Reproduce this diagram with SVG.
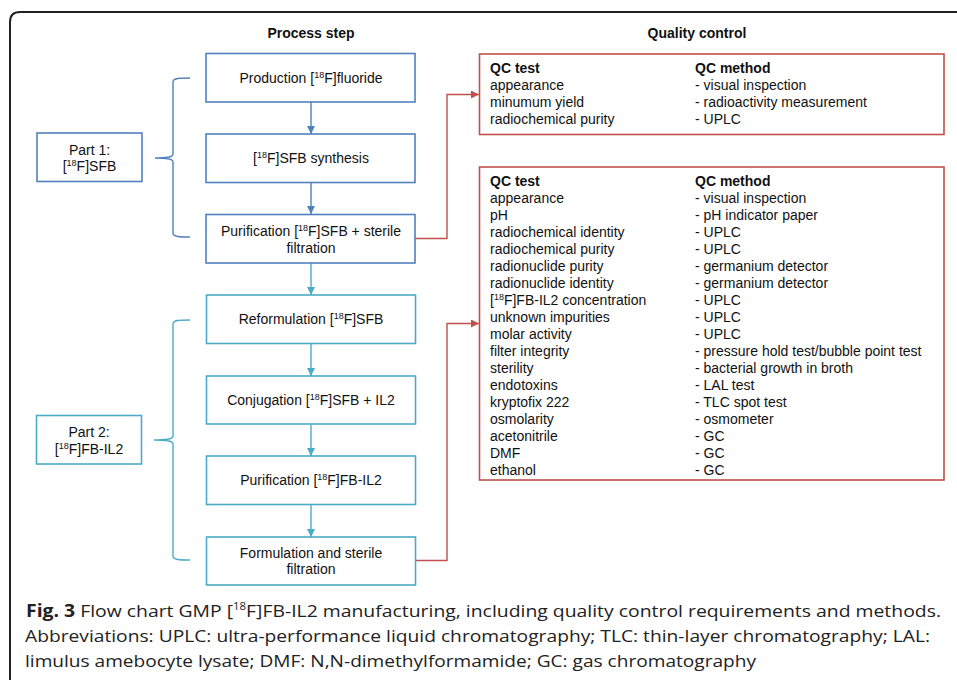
<svg xmlns="http://www.w3.org/2000/svg" width="957" height="680" viewBox="0 0 957 680">
<style>
  text { font-family: "Liberation Sans", Arial, sans-serif; font-size: 14px; fill: #111; }
  .c { text-anchor: middle; }
  .b { font-weight: bold; }
  .p1 { fill: #fff; stroke: #4F81BD; stroke-width: 1.6; }
  .p2 { fill: #fff; stroke: #4BACC6; stroke-width: 1.6; }
  .qc { fill: #fff; stroke: #C0504D; stroke-width: 1.6; }
  .l1 { fill: none; stroke: #4F81BD; stroke-width: 1.4; }
  .l2 { fill: none; stroke: #4BACC6; stroke-width: 1.4; }
  .lr { fill: none; stroke: #C0504D; stroke-width: 1.4; }
  .cap { font-family: "Open Sans", "Noto Sans", sans-serif; font-size: 17px; fill: #222; }
</style>
<defs>
  <marker id="ab" markerUnits="userSpaceOnUse" markerWidth="10" markerHeight="10" refX="8" refY="4" orient="auto">
    <path d="M0,0 L8,4 L0,8 Z" fill="#4F81BD"/>
  </marker>
  <marker id="al" markerUnits="userSpaceOnUse" markerWidth="10" markerHeight="10" refX="8" refY="4" orient="auto">
    <path d="M0,0 L8,4 L0,8 Z" fill="#4BACC6"/>
  </marker>
  <marker id="ar" markerUnits="userSpaceOnUse" markerWidth="10" markerHeight="10" refX="8" refY="4" orient="auto">
    <path d="M0,0 L8,4 L0,8 Z" fill="#C0504D"/>
  </marker>
</defs>
<rect width="957" height="680" fill="#fff"/>
<path d="M10,682 L10,22 Q10,12 20,12 L959,12" fill="none" stroke="#222" stroke-width="2"/>

<text class="c b" x="311" y="38">Process step</text>
<text class="c b" x="697" y="38">Quality control</text>

<g id="connectors">
  <path class="l1" d="M311,102 V134" marker-end="url(#ab)"/>
  <path class="l1" d="M311,182.5 V214" marker-end="url(#ab)"/>
  <path class="l2" d="M311,263 V295" marker-end="url(#al)"/>
  <path class="l2" d="M311,343.5 V376" marker-end="url(#al)"/>
  <path class="l2" d="M311,424 V456" marker-end="url(#al)"/>
  <path class="l2" d="M311,504.5 V537" marker-end="url(#al)"/>
  <path class="lr" d="M415,238.5 H447 V94.5 H479" marker-end="url(#ar)"/>
  <path class="lr" d="M415,560.5 H447 V323.5 H479" marker-end="url(#ar)"/>
  <path class="l1" d="M190,78 C180,78 173,78 173,82 L173,154 C173,157 168,158 155,158 C168,158 173,159 173,162 L173,233 C173,237 180,237 190,237"/>
  <path class="l2" d="M190,320 C180,320 173,320 173,324 L173,436 C173,439 168,440 154,440 C168,440 173,441 173,444 L173,556 C173,560 180,560 190,560"/>
</g>

<g id="part1">
  <rect class="p1" x="37" y="133" width="105" height="48.5"/>
  <text class="c" x="89.5" y="154.5">Part 1:</text>
  <text class="c" x="89.5" y="171">[<tspan font-size="9" dy="-5">18</tspan><tspan dy="5">F]SFB</tspan></text>
</g>
<g id="part2">
  <rect class="p2" x="36.5" y="415.5" width="105" height="48.5"/>
  <text class="c" x="89" y="437">Part 2:</text>
  <text class="c" x="89" y="454">[<tspan font-size="9" dy="-5">18</tspan><tspan dy="5">F]FB-IL2</tspan></text>
</g>

<g id="step1">
  <rect class="p1" x="206" y="53.5" width="209" height="48.5"/>
  <text class="c" x="311" y="82.5">Production [<tspan font-size="9" dy="-5">18</tspan><tspan dy="5">F]fluoride</tspan></text>
</g>
<g id="step2">
  <rect class="p1" x="206" y="134" width="209" height="48.5"/>
  <text class="c" x="311" y="163">[<tspan font-size="9" dy="-5">18</tspan><tspan dy="5">F]SFB synthesis</tspan></text>
</g>
<g id="step3">
  <rect class="p1" x="206" y="214.5" width="209" height="48.5"/>
  <text class="c" x="311" y="236">Purification [<tspan font-size="9" dy="-5">18</tspan><tspan dy="5">F]SFB + sterile</tspan></text>
  <text class="c" x="311" y="252.5">filtration</text>
</g>
<g id="step4">
  <rect class="p2" x="206.5" y="295" width="209" height="48.5"/>
  <text class="c" x="311" y="324">Reformulation [<tspan font-size="9" dy="-5">18</tspan><tspan dy="5">F]SFB</tspan></text>
</g>
<g id="step5">
  <rect class="p2" x="206.5" y="376" width="209" height="48"/>
  <text class="c" x="311" y="405">Conjugation [<tspan font-size="9" dy="-5">18</tspan><tspan dy="5">F]SFB + IL2</tspan></text>
</g>
<g id="step6">
  <rect class="p2" x="206.5" y="456" width="209" height="48.5"/>
  <text class="c" x="311" y="485">Purification [<tspan font-size="9" dy="-5">18</tspan><tspan dy="5">F]FB-IL2</tspan></text>
</g>
<g id="step7">
  <rect class="p2" x="206.5" y="537" width="209" height="48"/>
  <text class="c" x="311" y="557.5">Formulation and sterile</text>
  <text class="c" x="311" y="574">filtration</text>
</g>

<g id="qc1">
  <rect class="qc" x="479.5" y="54" width="464.5" height="80.5"/>
  <text class="b" x="490" y="72.5">QC test</text>
  <text class="b" x="695" y="72.5">QC method</text>
  <text x="490" y="89.5">appearance</text><text x="695" y="89.5">- visual inspection</text>
  <text x="490" y="106.5">minumum yield</text><text x="695" y="106.5">- radioactivity measurement</text>
  <text x="490" y="123.5">radiochemical purity</text><text x="695" y="123.5">- UPLC</text>
</g>

<g id="qc2">
  <rect class="qc" x="479.5" y="167" width="464.5" height="313"/>
  <text class="b" x="490" y="186">QC test</text>
  <text class="b" x="695" y="186">QC method</text>
  <text x="490" y="203">appearance</text><text x="695" y="203">- visual inspection</text>
  <text x="490" y="220">pH</text><text x="695" y="220">- pH indicator paper</text>
  <text x="490" y="237">radiochemical identity</text><text x="695" y="237">- UPLC</text>
  <text x="490" y="254">radiochemical purity</text><text x="695" y="254">- UPLC</text>
  <text x="490" y="271">radionuclide purity</text><text x="695" y="271">- germanium detector</text>
  <text x="490" y="288">radionuclide identity</text><text x="695" y="288">- germanium detector</text>
  <text x="490" y="305">[<tspan font-size="9" dy="-5">18</tspan><tspan dy="5">F]FB-IL2 concentration</tspan></text><text x="695" y="305">- UPLC</text>
  <text x="490" y="322">unknown impurities</text><text x="695" y="322">- UPLC</text>
  <text x="490" y="339">molar activity</text><text x="695" y="339">- UPLC</text>
  <text x="490" y="356">filter integrity</text><text x="695" y="356">- pressure hold test/bubble point test</text>
  <text x="490" y="373">sterility</text><text x="695" y="373">- bacterial growth in broth</text>
  <text x="490" y="390">endotoxins</text><text x="695" y="390">- LAL test</text>
  <text x="490" y="407">kryptofix 222</text><text x="695" y="407">- TLC spot test</text>
  <text x="490" y="424">osmolarity</text><text x="695" y="424">- osmometer</text>
  <text x="490" y="441">acetonitrile</text><text x="695" y="441">- GC</text>
  <text x="490" y="458">DMF</text><text x="695" y="458">- GC</text>
  <text x="490" y="475">ethanol</text><text x="695" y="475">- GC</text>
</g>

<g id="caption">
  <text class="cap" x="26" y="617" textLength="915" lengthAdjust="spacingAndGlyphs"><tspan font-weight="bold">Fig. 3</tspan> Flow chart GMP [<tspan font-size="10" dy="-7">18</tspan><tspan dy="7">F]FB-IL2 manufacturing, including quality control requirements and methods.</tspan></text>
  <text class="cap" x="25" y="642" textLength="905" lengthAdjust="spacingAndGlyphs">Abbreviations: UPLC: ultra-performance liquid chromatography; TLC: thin-layer chromatography; LAL:</text>
  <text class="cap" x="25" y="667" textLength="731" lengthAdjust="spacingAndGlyphs">limulus amebocyte lysate; DMF: N,N-dimethylformamide; GC: gas chromatography</text>
</g>
</svg>
